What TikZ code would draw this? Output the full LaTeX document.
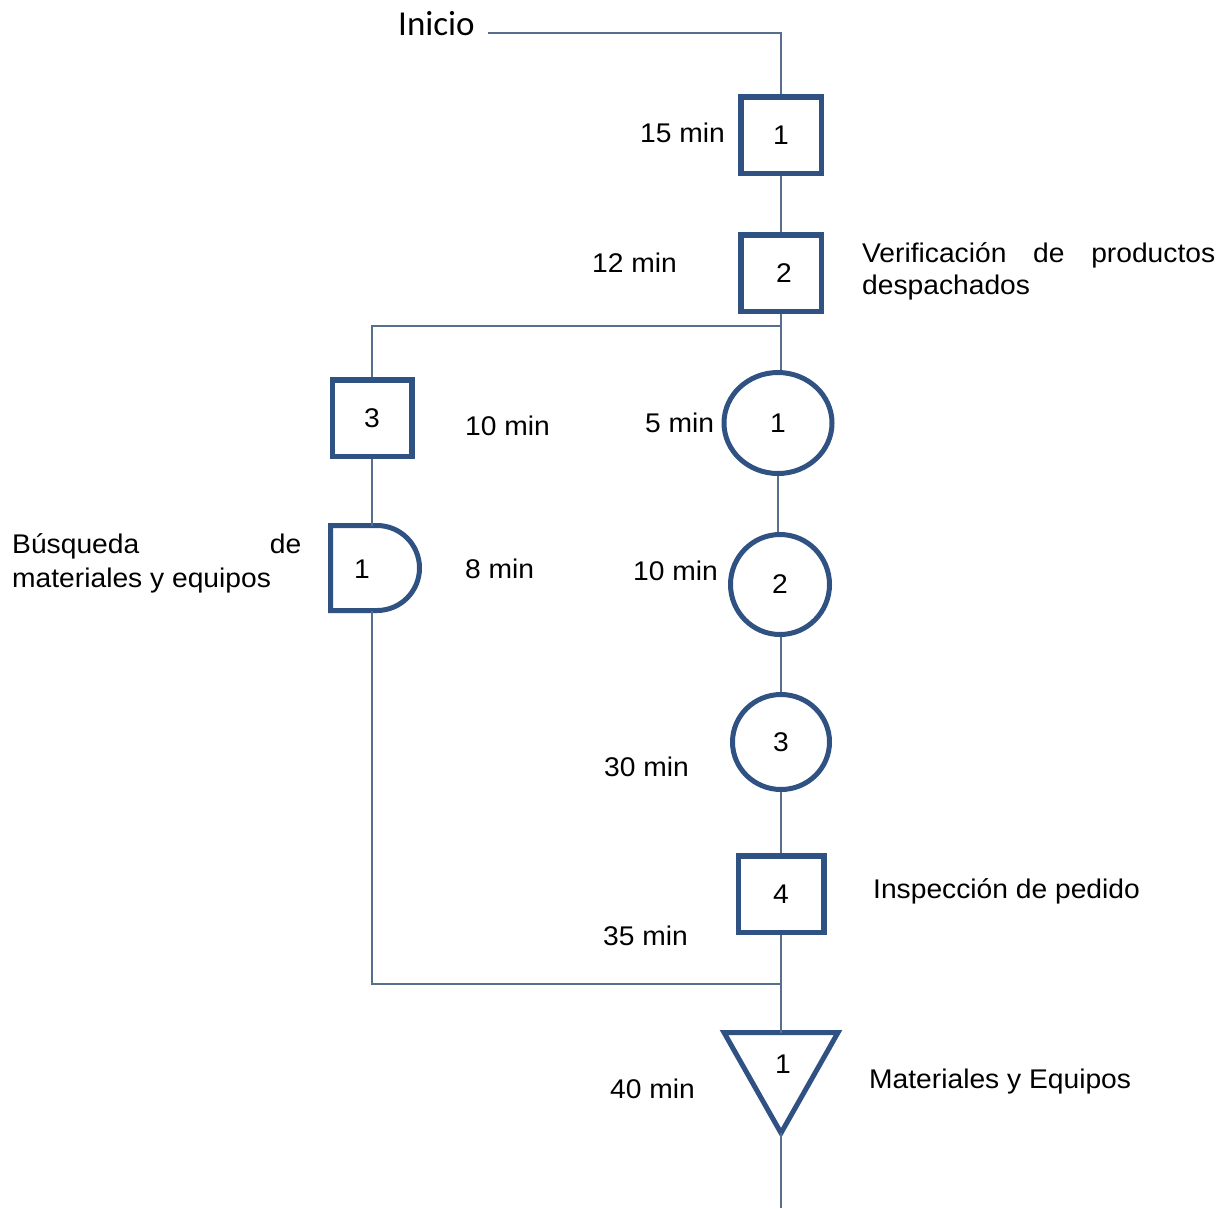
\documentclass[tikz,border=0pt]{standalone}
\usepackage{fontspec}
\setmainfont{Liberation Sans}[FakeStretch=1.045]
\newfontfamily\calibrifont{Carlito}
\usetikzlibrary{shapes.geometric}

\definecolor{shapeblue}{RGB}{48,82,130}
\definecolor{lineblue}{RGB}{88,110,142}
\newcommand\lblfont{\fontsize{27}{32}\selectfont}
\newcommand\numfont{\fontsize{27}{32}\selectfont}

\begin{document}
\begin{tikzpicture}[x=1pt,y=1pt,
  conn/.style={draw=lineblue,line width=1.8pt},
  opbox/.style={draw=shapeblue,line width=5.5pt,rectangle,minimum width=80.5pt,
    minimum height=76.5pt,inner sep=0pt,font=\numfont},
  opcirc/.style={draw=shapeblue,line width=5pt,ellipse,inner sep=0pt,font=\numfont},
  shapeline/.style={draw=shapeblue,line width=5pt},
  frame/.style={inner sep=0pt,outer sep=0pt},
  num/.style={inner sep=0pt,anchor=base,font=\numfont},
  lbl/.style={inner sep=0pt,anchor=base west,font=\lblfont},
]
\useasboundingbox (0,0) rectangle (1229,-1208);

% start label
\node[inner sep=0pt,anchor=base west,font=\calibrifont\fontsize{35}{40}\selectfont]
  (ini) at (398,-35) {Inicio};

% right column: operations, transports, inspection, storage
\node[opbox] (s1) at (781,-135) {1};
\node[opbox] (s2) at (781,-273) {\hspace{6pt}2};
\node[opcirc,minimum width=108pt,minimum height=101pt] (c1) at (778,-423) {1};
\node[opcirc,minimum width=99pt,minimum height=100pt] (c2) at (780,-584.5) {2};
\node[opcirc,minimum width=97pt,minimum height=95pt] (c3) at (781,-742) {3};
\node[opbox,minimum width=85.5pt] (s4) at (781,-894) {4};

% storage triangle
\node[frame,minimum width=114pt,minimum height=100.5pt] (alm) at (781,-1082.75) {};
\draw[shapeline] (alm.north west) -- (alm.north east) -- (alm.south) -- cycle;
\node[num] (almnum) at (783,-1073) {1};

% left column: operation and delay
\node[opbox,minimum width=79.5pt] (s3) at (372,-418) {3};
\node[frame,minimum width=89pt,minimum height=85pt] (dly) at (375,-568) {};
\draw[shapeline] (dly.south west) -- (dly.north west) -- ++(46.5,0)
  arc[start angle=90,end angle=-90,radius=42.5] -- cycle;
\node[num] (dlynum) at (362,-578) {1};

% connectors
\coordinate (split) at (781,-326);
\coordinate (merge) at (781,-984);
\coordinate (finish) at (781,-1208);
\draw[conn] ([xshift=13pt,yshift=2pt]ini.base east) -| (s1.north);
\draw[conn] (s1.south) -- (s2.north);
\draw[conn] (s2.south) -- (s2.south |- c1.north);
\draw[conn] (split) -| (s3.north);
\draw[conn] (c1.south) -- (c1.south |- c2.north);
\draw[conn] (c2.south -| c3.south) -- (c3.north);
\draw[conn] (c3.south) -- (s4.north);
\draw[conn] (s4.south) -- (alm.north);
\draw[conn] (s3.south) -- (s3.south |- dly.north);
\draw[conn] (s3.south |- dly.south) |- (merge);
\draw[conn] (alm.south) -- (finish);

% times
\node[lbl] (t1) at (640,-142) {15 min};
\node[lbl] (t2) at (592,-272) {12 min};
\node[lbl] (t3) at (465,-435) {10 min};
\node[lbl] (t4) at (645,-432) {5 min};
\node[lbl] (t5) at (465,-578) {8 min};
\node[lbl] (t6) at (633,-580) {10 min};
\node[lbl] (t7) at (604,-776) {30 min};
\node[lbl] (t8) at (603,-945) {35 min};
\node[lbl] (t9) at (610,-1098) {40 min};

% descriptions
\node[lbl] (d1) at (862,-262)
  {\vtop{\baselineskip=32pt\hbox to 353pt{Verificación\hfill de\hfill productos}\hbox{despachados}}};
\node[lbl] (d2) at (12,-553)
  {\vtop{\baselineskip=34pt\hbox to 289pt{Búsqueda\hfill de}\hbox{materiales y equipos}}};
\node[lbl] (d3) at (873,-898) {Inspección de pedido};
\node[lbl] (d4) at (869,-1088) {Materiales y Equipos};
\end{tikzpicture}
\end{document}
